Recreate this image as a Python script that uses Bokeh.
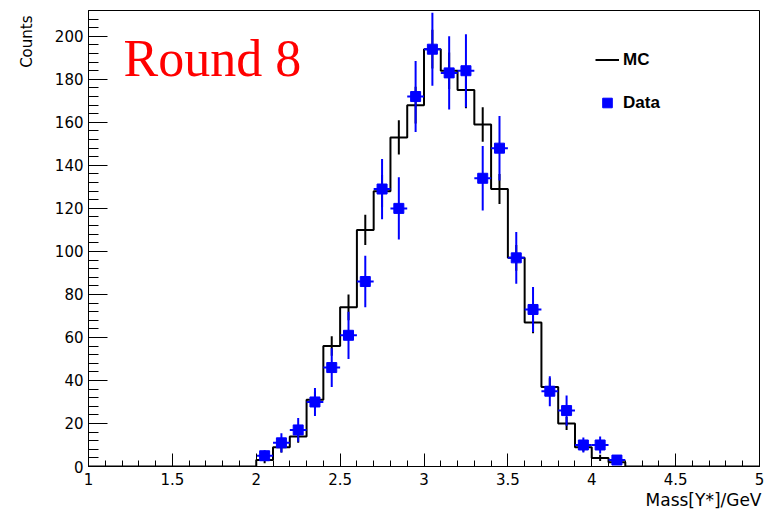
import numpy as np
from bokeh.plotting import figure
from bokeh.models import (ColumnDataSource, SingleIntervalTicker, NumeralTickFormatter,
                          Label, Legend, LegendItem, Range1d, Title)
from bokeh.embed import file_html
from bokeh.resources import INLINE

# ---------------- data ----------------
x_min, x_max = 1.0, 5.0
bin_width = 0.1
y_max = 212

mc_bin_low = [2.0, 2.1, 2.2, 2.3, 2.4, 2.5, 2.6, 2.7, 2.8, 2.9, 3.0,
              3.1, 3.2, 3.3, 3.4, 3.5, 3.6, 3.7, 3.8, 3.9, 4.0, 4.1]
mc_counts = [3, 9, 14, 31, 56, 74, 110, 128, 153, 168, 194,
             184, 175, 159, 129, 97, 67, 37, 20, 9, 4, 2]
mc_errors = [1.5, 2.5, 3, 4, 4.5, 6, 7, 7.5, 8, 8.5, 9,
             8.5, 8.5, 8, 7, 6, 5, 4, 3, 2, 1.5, 1]

data_centers = [2.05, 2.15, 2.25, 2.35, 2.45, 2.55, 2.65, 2.75, 2.85, 2.95, 3.05,
                3.15, 3.25, 3.35, 3.45, 3.55, 3.65, 3.75, 3.85, 3.95, 4.05, 4.15]
data_counts = [5, 11, 17, 30, 46, 61, 86, 129, 120, 172, 194,
               183, 184, 134, 148, 97, 73, 35, 26, 10, 10, 3]
data_errors = [2.5, 4.5, 5.5, 6.5, 9, 11, 12, 14, 14.5, 16.5, 17,
               17, 17, 15, 15, 12, 10.5, 7, 7, 3.5, 4, 2]

x_title = "Mass[Y*]/GeV"
y_title = "Counts"
plot_label = "Round 8"

# ---------------- derived sources ----------------
n_bins = int(round((x_max - x_min) / bin_width))
full = np.zeros(n_bins)
for lo, c in zip(mc_bin_low, mc_counts):
    full[int(round((lo - x_min) / bin_width))] = c
step_x = x_min + bin_width * np.arange(n_bins + 1)
step_y = np.append(full, full[-1])

mc_c = np.array(mc_bin_low) + bin_width / 2
mc_v = np.array(mc_counts, dtype=float)
mc_e = np.array(mc_errors, dtype=float)
mc_err_src = ColumnDataSource(dict(x=mc_c, y0=mc_v - mc_e, y1=mc_v + mc_e))

dc = np.array(data_centers)
dv = np.array(data_counts, dtype=float)
de = np.array(data_errors, dtype=float)
data_src = ColumnDataSource(dict(x=dc, y=dv, y0=dv - de, y1=dv + de,
                                 xl=dc - bin_width / 2, xr=dc + bin_width / 2))

# ---------------- figure ----------------
p = figure(width=767, height=509, x_range=Range1d(x_min, x_max), y_range=Range1d(0, y_max),
           output_backend="svg", toolbar_location=None,
           min_border_left=88, min_border_right=8, min_border_top=10, min_border_bottom=43)
p.background_fill_color = "white"
p.border_fill_color = "white"
p.xgrid.visible = False
p.ygrid.visible = False
p.outline_line_color = "black"
p.outline_line_width = 1

tick_font = "DejaVu Sans"
p.xaxis.ticker = SingleIntervalTicker(interval=0.5, num_minor_ticks=5)
p.xaxis.formatter = NumeralTickFormatter(format="0.[0]")
p.yaxis.ticker = SingleIntervalTicker(interval=20, num_minor_ticks=5)
for ax in (p.xaxis[0], p.yaxis[0]):
    ax.major_tick_out = 0
    ax.minor_tick_out = 0
    ax.axis_line_color = "black"
    ax.major_tick_line_color = "black"
    ax.minor_tick_line_color = "black"
    ax.major_label_text_font = tick_font
    ax.major_label_text_font_size = "15px"
    ax.major_label_text_color = "black"
p.xaxis.major_tick_in = 13
p.xaxis.minor_tick_in = 6
p.xaxis.major_label_standoff = 6
p.yaxis.major_tick_in = 19
p.yaxis.minor_tick_in = 10
p.yaxis.major_label_standoff = 5

# Axis titles, aligned to the far ends like ROOT
p.add_layout(Title(text=x_title, align="right", offset=-2, standoff=0,
                   text_font=tick_font, text_font_size="17px", text_font_style="normal",
                   text_color="black"), "below")
p.add_layout(Title(text=y_title, align="right", offset=5, standoff=31,
                   text_font=tick_font, text_font_size="15px", text_font_style="normal",
                   text_color="black"), "left")

# MC histogram
mc_r = p.step(step_x, step_y, mode="after", line_color="black", line_width=2)
p.segment(x0="x", y0="y0", x1="x", y1="y1", source=mc_err_src, line_color="black", line_width=2)

# Data points
p.segment(x0="x", y0="y0", x1="x", y1="y1", source=data_src, line_color="#0000ff", line_width=2)
p.segment(x0="xl", y0="y", x1="xr", y1="y", source=data_src, line_color="#0000ff", line_width=2)
data_r = p.scatter(x="x", y="y", source=data_src, marker="square", size=10,
                   fill_color="#0000ff", line_color="#0000ff")

# Plot label
p.add_layout(Label(x=35, y=408, x_units="screen", y_units="screen", text=plot_label,
                   text_font="Liberation Serif", text_font_size="52px", text_color="red",
                   text_baseline="alphabetic"))

legend = Legend(items=[LegendItem(label="MC", renderers=[mc_r]),
                       LegendItem(label="Data", renderers=[data_r])],
                location=(507, 351), glyph_width=24, glyph_height=25, label_height=25,
                label_standoff=4, spacing=18, padding=0, margin=0,
                border_line_alpha=0, background_fill_alpha=0,
                label_text_font="Liberation Sans", label_text_font_style="bold",
                label_text_font_size="17px", label_text_color="black")
p.add_layout(legend)

open("out.html", "w").write(file_html(p, INLINE))
